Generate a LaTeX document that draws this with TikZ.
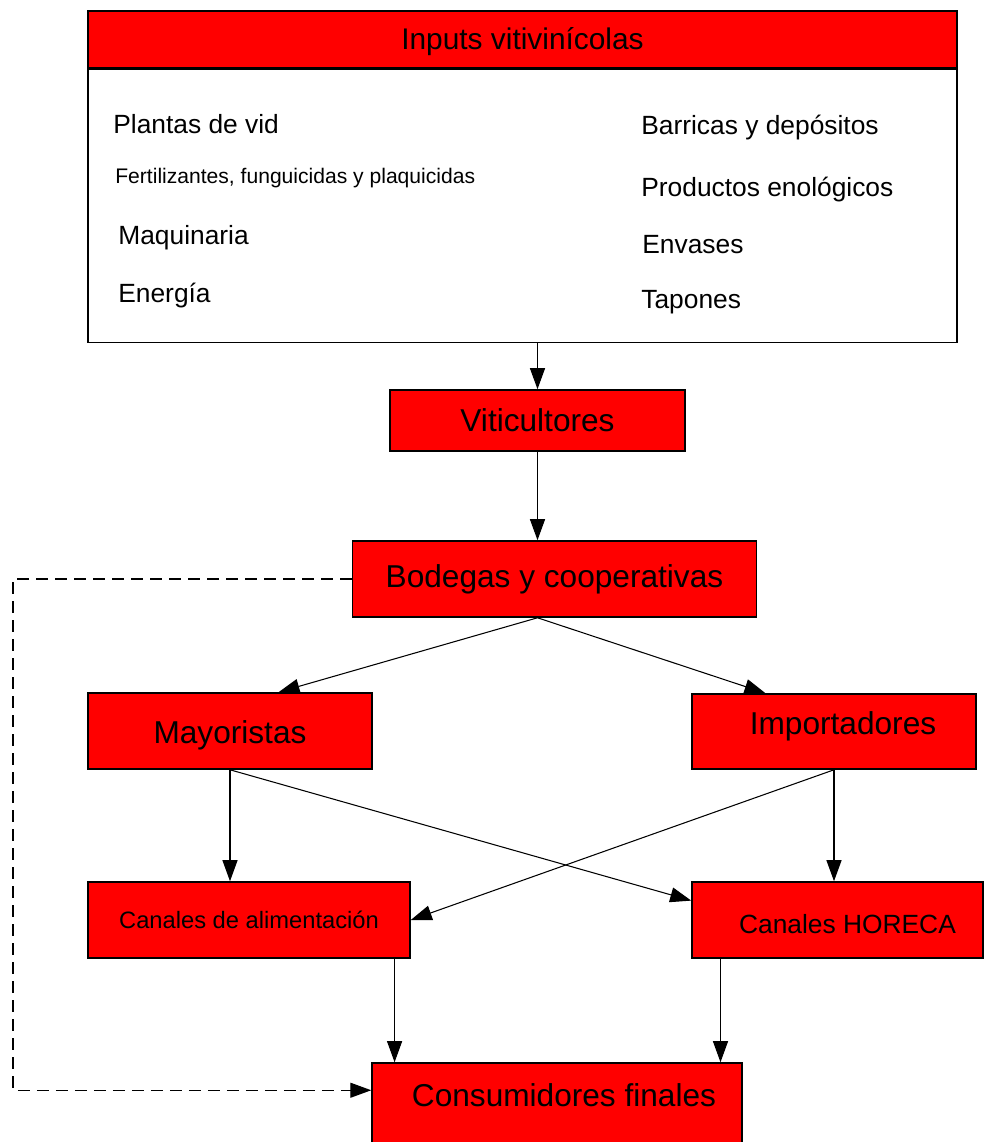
\documentclass[tikz,border=0pt]{standalone}
\usepackage{fontspec}
\setmainfont{Liberation Sans}
\usetikzlibrary{positioning,calc,arrows.meta}

\tikzset{
  redbox/.style={draw, fill=red, line width=0.9pt, inner sep=0pt, font=\fontsize{18}{20}\selectfont},
  item/.style={anchor=west, inner sep=0pt, font=\fontsize{15}{17}\selectfont},
  flow/.style={-{Triangle[length=0.42cm,width=0.3cm]}, line width=0.6pt},
  direct/.style={flow, line width=0.75pt, dash pattern=on 0.24cm off 0.14cm},
}

\begin{document}
\begin{tikzpicture}[x=0.02cm, y=-0.02cm]
		\useasboundingbox (0,0) rectangle (984,1142);

		\node[redbox, minimum width=17.38cm, minimum height=1.14cm, font=\fontsize{17}{19}\selectfont, text height=0.5cm, text depth=0.1cm] (head) at (522.5,39.5) {Inputs vitivinícolas};
		\node[draw, line width=0.9pt, minimum width=17.38cm, minimum height=5.46cm, anchor=north] (inputs) at (head.south) {};

		\node[item] (plantas) at (113,124) {Plantas de vid};
		\node[item, font=\fontsize{12}{14}\selectfont] (fert) at (115,178) {Fertilizantes, funguicidas y plaquicidas};
		\node[item] (maq) at (118,238) {Maquinaria};
		\node[item] (energia) at (118,296) {Energía};
		\node[item] (barricas) at (641,128) {Barricas y depósitos};
		\node[item] (prod) at (641,190) {Productos enológicos};
		\node[item] (envases) at (642,245) {Envases};
		\node[item] (tapones) at (641,302) {Tapones};

		\node[redbox, minimum width=5.9cm, minimum height=1.22cm] (vitic) at (537.5,420.5) {Viticultores};
		\node[redbox, minimum width=8.08cm, minimum height=1.52cm] (bodegas) at (554.5,579) {Bodegas y cooperativas};
		\node[redbox, minimum width=5.68cm, minimum height=1.52cm, text height=0.62cm, text depth=0.13cm] (mayor) at (230,731) {Mayoristas};
		\node[redbox, minimum width=5.68cm, minimum height=1.5cm, text height=0.46cm, text depth=0.33cm] (import) at (834,731.5) {\hspace*{0.36cm}Importadores};
		\node[redbox, minimum width=6.44cm, minimum height=1.52cm, font=\fontsize{13.5}{15}\selectfont] (alim) at (249,920) {Canales de alimentación};
		\node[redbox, minimum width=5.82cm, minimum height=1.52cm, font=\fontsize{15}{17}\selectfont, text height=0.66cm, text depth=0.11cm] (horeca) at (837.5,920) {\hspace*{0.4cm}Canales HORECA};
		\node[redbox, minimum width=7.4cm, minimum height=1.72cm, text height=0.46cm, text depth=0.46cm] (consum) at (557,1106) {\hspace*{0.28cm}Consumidores finales};

		\coordinate (lft) at (13,800);

		\draw[flow] (inputs.south -| vitic.north) -- (vitic.north);
		\draw[flow] (vitic.south) -- (bodegas.north -| vitic.south);
		\draw[flow] (bodegas.south -| vitic.south) -- ($(mayor.north west)!0.67!(mayor.north east)$);
		\draw[flow] (bodegas.south -| vitic.south) -- ($(import.north west)!0.26!(import.north east)$);
		\draw[flow] (mayor.south) -- (mayor.south |- alim.north);
		\draw[flow] (mayor.south) -- ($(horeca.north west)!0.25!(horeca.south west)$);
		\draw[flow] (import.south) -- (alim.east);
		\draw[flow] (import.south) -- (import.south |- horeca.north);
		\draw[flow] ($(alim.south west)!0.95!(alim.south east)$) coordinate (a1) -- (a1 |- consum.north);
		\draw[flow] ($(horeca.south west)!0.1!(horeca.south east)$) coordinate (h1) -- (h1 |- consum.north);
		\draw[direct] (bodegas.west) -| (lft) |- ($(consum.north west)!0.32!(consum.south west)$);
	\end{tikzpicture}
\end{document}
